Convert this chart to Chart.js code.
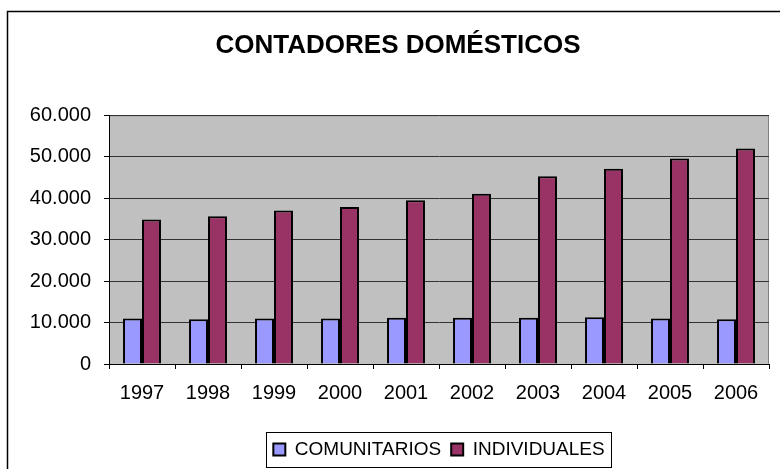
<!DOCTYPE html>
<html>
<head>
<meta charset="utf-8">
<script src="https://cdn.jsdelivr.net/npm/chart.js@4.4.1/dist/chart.umd.min.js"></script>
<style>
  html, body { margin: 0; padding: 0; background: #fff; }
  #wrap { width: 780px; height: 469px; position: relative; }
</style>
</head>
<body>
<div id="wrap"><canvas id="chart"></canvas></div>
<script>
// data
const years = ['1997', '1998', '1999', '2000', '2001', '2002', '2003', '2004', '2005', '2006'];
const comunitarios = [10950, 10800, 10950, 10950, 11150, 11150, 11150, 11250, 10950, 10800];
const individuales = [34850, 35650, 37000, 37850, 39500, 41050, 45250, 47100, 49550, 51950];
const yTicks = [0, 10000, 20000, 30000, 40000, 50000, 60000];

const FONT = 'Arial, "Liberation Sans", sans-serif';

function fmt(v) {
  return String(v).replace(/\B(?=(\d{3})+(?!\d))/g, '.');
}

// grey plot area, frame round the whole chart, box round the legend
const excelFrame = {
  id: 'excelFrame',
  beforeDraw(chart) {
    const { ctx, chartArea: a } = chart;
    ctx.save();
    ctx.fillStyle = '#C0C0C0';
    ctx.fillRect(a.left, a.top, a.right - a.left, a.bottom - a.top);
    ctx.strokeStyle = '#808080';
    ctx.lineWidth = 1;
    ctx.strokeRect(a.left + 0.5, a.top + 0.5, a.right - a.left - 1, a.bottom - a.top);
    ctx.strokeStyle = '#000';
    ctx.lineWidth = 1.5;
    ctx.strokeRect(7.5, 11.5, 900, 600);
    ctx.restore();
  },
  afterDraw(chart) {
    const lg = chart.legend;
    if (!lg || !lg.legendHitBoxes.length) return;
    const boxes = lg.legendHitBoxes;
    const first = boxes[0], last = boxes[boxes.length - 1];
    const x0 = first.left - 7, x1 = last.left + last.width + 7;
    const y0 = first.top - 8, y1 = first.top + first.height + 8;
    const ctx = chart.ctx;
    ctx.save();
    ctx.strokeStyle = '#000';
    ctx.lineWidth = 1;
    ctx.strokeRect(Math.round(x0) + 0.5, Math.round(y0) + 0.5, Math.round(x1 - x0), Math.round(y1 - y0));
    ctx.restore();
  }
};

new Chart(document.getElementById('chart'), {
  type: 'bar',
  data: {
    labels: years,
    datasets: [{
      label: 'COMUNITARIOS',
      data: comunitarios,
      backgroundColor: '#9999FF',
      borderColor: '#000',
      borderWidth: 2,
      categoryPercentage: 0.575,
      barPercentage: 1
    }, {
      label: 'INDIVIDUALES',
      data: individuales,
      backgroundColor: '#993366',
      borderColor: '#000',
      borderWidth: 2,
      categoryPercentage: 0.575,
      barPercentage: 1
    }]
  },
  options: {
    responsive: true,
    maintainAspectRatio: false,
    animation: false,
    layout: {
      padding: { left: 27, right: 11, top: 0, bottom: 0 }
    },
    plugins: {
      title: {
        display: true,
        text: 'CONTADORES DOMÉSTICOS',
        color: '#000',
        font: { family: FONT, size: 26, weight: 'bold' },
        padding: { top: 30, bottom: 54 }
      },
      legend: {
        position: 'bottom',
        fullSize: false,
        labels: {
          color: '#000',
          font: { family: FONT, size: 19 },
          boxWidth: 12,
          boxHeight: 12,
          padding: 10
        }
      },
      tooltip: { enabled: false }
    },
    scales: {
      x: {
        grid: {
          drawOnChartArea: false,
          drawTicks: true,
          tickLength: 5,
          color: '#000'
        },
        border: { color: '#000', width: 1 },
        ticks: {
          color: '#000',
          font: { family: FONT, size: 20 },
          padding: 12,
          maxRotation: 0
        },
        afterFit(scale) { scale.height = 66; }
      },
      y: {
        min: 0,
        max: 60000,
        afterBuildTicks(scale) {
          scale.ticks = yTicks.map(v => ({ value: v }));
        },
        grid: {
          color: '#333',
          tickLength: 5,
          tickColor: '#000'
        },
        border: { color: '#000', width: 1 },
        ticks: {
          color: '#000',
          font: { family: FONT, size: 20 },
          padding: 13,
          callback: function(value) {
            return fmt(value);
          }
        },
        afterFit(scale) { scale.width = 82; }
      }
    }
  },
  plugins: [excelFrame]
});
</script>
</body>
</html>
